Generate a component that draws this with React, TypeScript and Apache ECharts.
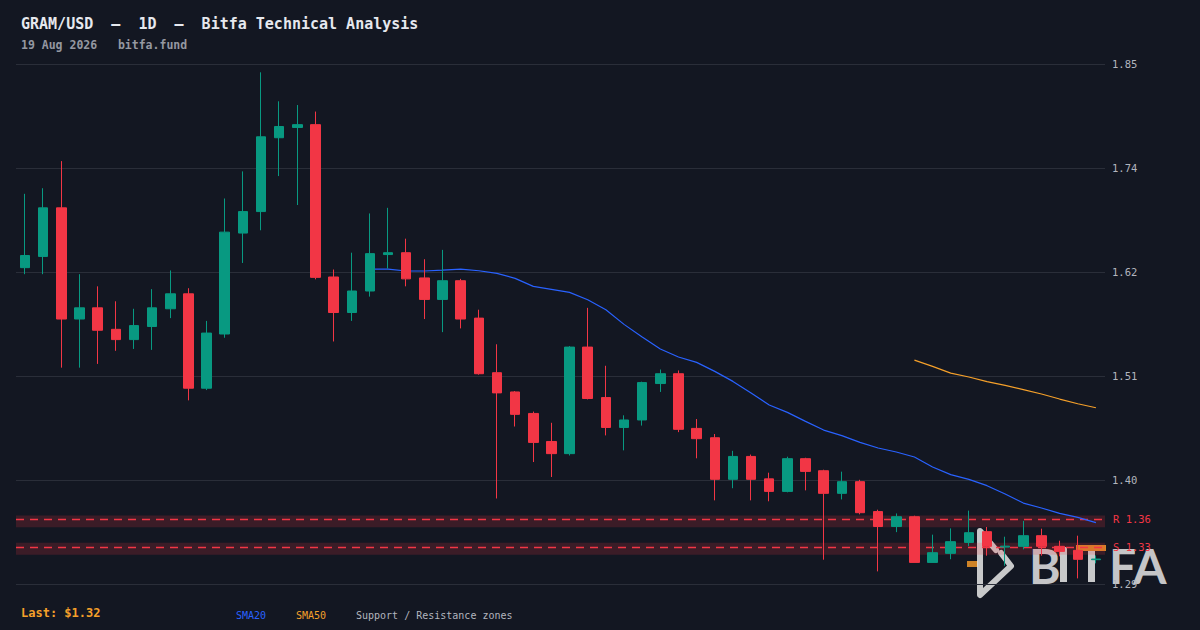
import React, { useEffect, useRef } from "react";
import * as echarts from "echarts";

const categories = [
  "2026-06-21","2026-06-22","2026-06-23","2026-06-24","2026-06-25","2026-06-26","2026-06-27","2026-06-28","2026-06-29","2026-06-30",
  "2026-07-01","2026-07-02","2026-07-03","2026-07-04","2026-07-05","2026-07-06","2026-07-07","2026-07-08","2026-07-09","2026-07-10",
  "2026-07-11","2026-07-12","2026-07-13","2026-07-14","2026-07-15","2026-07-16","2026-07-17","2026-07-18","2026-07-19","2026-07-20",
  "2026-07-21","2026-07-22","2026-07-23","2026-07-24","2026-07-25","2026-07-26","2026-07-27","2026-07-28","2026-07-29","2026-07-30",
  "2026-07-31","2026-08-01","2026-08-02","2026-08-03","2026-08-04","2026-08-05","2026-08-06","2026-08-07","2026-08-08","2026-08-09",
  "2026-08-10","2026-08-11","2026-08-12","2026-08-13","2026-08-14","2026-08-15","2026-08-16","2026-08-17","2026-08-18","2026-08-19",
];

const opens = [
  1.629, 1.641, 1.693, 1.574, 1.586, 1.563, 1.552, 1.566, 1.585, 1.601,
  1.500, 1.558, 1.666, 1.689, 1.768, 1.779, 1.782, 1.619, 1.581, 1.604,
  1.643, 1.645, 1.618, 1.595, 1.615, 1.575, 1.5166, 1.496, 1.473, 1.443,
  1.430, 1.544, 1.490, 1.458, 1.466, 1.505, 1.5155, 1.457, 1.447, 1.4025,
  1.427, 1.403, 1.3896, 1.4246, 1.4117, 1.3875, 1.400, 1.368, 1.352, 1.3625,
  1.3136, 1.3233, 1.335, 1.3465, 1.3300, 1.3308, 1.3422, 1.3308, 1.3265, 1.3165,
];
const closes = [
  1.642, 1.693, 1.574, 1.586, 1.562, 1.552, 1.567, 1.586, 1.601, 1.500,
  1.559, 1.667, 1.689, 1.769, 1.780, 1.782, 1.6186, 1.581, 1.604, 1.644,
  1.645, 1.617, 1.595, 1.615, 1.574, 1.5155, 1.495, 1.472, 1.442, 1.430,
  1.544, 1.489, 1.458, 1.466, 1.506, 1.5155, 1.456, 1.446, 1.4025, 1.427,
  1.4025, 1.3896, 1.4246, 1.411, 1.3875, 1.400, 1.3668, 1.352, 1.3625, 1.3136,
  1.324, 1.3358, 1.3454, 1.3308, 1.3310, 1.3422, 1.3308, 1.3254, 1.3169, 1.3172,
];
const lows = [
  1.622, 1.622, 1.522, 1.522, 1.526, 1.540, 1.542, 1.541, 1.575, 1.487,
  1.498, 1.554, 1.634, 1.669, 1.727, 1.696, 1.6165, 1.550, 1.572, 1.598,
  1.628, 1.609, 1.574, 1.560, 1.564, 1.5145, 1.382, 1.459, 1.421, 1.405,
  1.428, 1.488, 1.4495, 1.4335, 1.460, 1.496, 1.453, 1.425, 1.380, 1.393,
  1.380, 1.379, 1.3886, 1.3907, 1.3165, 1.381, 1.365, 1.304, 1.346, 1.3136,
  1.3136, 1.317, 1.331, 1.3208, 1.310, 1.3276, 1.3208, 1.3201, 1.2965, 1.3126,
];
const highs = [
  1.708, 1.714, 1.743, 1.622, 1.609, 1.593, 1.585, 1.606, 1.626, 1.607,
  1.572, 1.703, 1.732, 1.838, 1.807, 1.803, 1.796, 1.627, 1.645, 1.687,
  1.693, 1.660, 1.638, 1.648, 1.617, 1.584, 1.547, 1.497, 1.475, 1.463,
  1.545, 1.586, 1.524, 1.471, 1.507, 1.520, 1.519, 1.467, 1.451, 1.433,
  1.429, 1.4096, 1.4267, 1.4256, 1.4128, 1.4107, 1.402, 1.370, 1.366, 1.3636,
  1.3433, 1.350, 1.369, 1.3515, 1.3411, 1.358, 1.3497, 1.3368, 1.3422, 1.3211,
];

const sma20 = [
  null, null, null, null, null, null, null, null, null, null,
  null, null, null, null, null, null, null, null, null, 1.6275,
  1.6275, 1.6254, 1.6254, 1.6264, 1.6275, 1.6257, 1.6229, 1.6175, 1.6090, 1.6058,
  1.6025, 1.5947, 1.5840, 1.5683, 1.5547, 1.5419, 1.5334, 1.5276, 1.5180, 1.5073,
  1.4948, 1.4820, 1.4741, 1.4645, 1.4552, 1.4492, 1.4420, 1.4360, 1.4317, 1.4264,
  1.4157, 1.4075, 1.4025, 1.3957, 1.3868, 1.3771, 1.3718, 1.3661, 1.3618, 1.3561,
];
const sma50 = [
  null, null, null, null, null, null, null, null, null, null,
  null, null, null, null, null, null, null, null, null, null,
  null, null, null, null, null, null, null, null, null, null,
  null, null, null, null, null, null, null, null, null, null,
  null, null, null, null, null, null, null, null, null, 1.5301,
  1.5234, 1.5162, 1.5120, 1.5070, 1.5030, 1.4984, 1.4938, 1.4884, 1.4834, 1.4791,
];

const yMin = 1.2905;
const yMax = 1.8469;
const yInterval = 0.11128;

const resistance = 1.3575;
const support = 1.3283;
const zoneHalf = 0.0064;
const lastPrice = 1.32;

const MONO = '"DejaVu Sans Mono", "Liberation Mono", monospace';
const UP = "#089981";
const DOWN = "#f23645";
const BLUE = "#2962ff";
const ORANGE = "#f5a02a";

export default function App() {
  const ref = useRef<HTMLDivElement>(null);

  useEffect(() => {
    if (!ref.current) return;
    echarts.graphic.registerShape(
      "bitfaMark",
      echarts.graphic.extendPath(
        "M21 22 L31 35 L0 64 L0 0 L16 19",
        {}
      ) as any
    );
    const chart = echarts.init(ref.current, null, { renderer: "svg" });
    const candles = opens.map((o, i) => [o, closes[i], lows[i], highs[i]]);

    const logoFill = "rgba(230,230,230,0.86)";
    const option: any = {
      animation: false,
      backgroundColor: "#131722",
      grid: { left: 16, right: 95, top: 64, bottom: 46, containLabel: false },
      xAxis: {
        type: "category",
        data: categories,
        boundaryGap: true,
        axisLine: { show: false },
        axisTick: { show: false },
        axisLabel: { show: false },
        splitLine: { show: false },
      },
      yAxis: {
        type: "value",
        position: "right",
        min: yMin,
        max: yMax,
        interval: yInterval,
        axisLine: { show: false },
        axisTick: { show: false },
        splitLine: { lineStyle: { color: "#2a2e39", width: 1 } },
        axisLabel: {
          color: "#b2b5be",
          fontSize: 10.5,
          fontFamily: MONO,
          margin: 7,
          formatter: (v: number) => v.toFixed(2),
        },
      },
      series: [
        {
          name: "SMA20",
          type: "line",
          data: sma20,
          showSymbol: false,
          symbol: "none",
          silent: true,
          z: 2,
          lineStyle: { color: BLUE, width: 1.2 },
          itemStyle: { color: BLUE },
        },
        {
          name: "SMA50",
          type: "line",
          data: sma50,
          showSymbol: false,
          symbol: "none",
          silent: true,
          z: 2,
          lineStyle: { color: ORANGE, width: 1.2 },
          itemStyle: { color: ORANGE },
          markArea: {
            silent: true,
            z: 1,
            itemStyle: { color: "rgba(242,54,69,0.18)" },
            data: [
              [{ yAxis: resistance - zoneHalf }, { yAxis: resistance + zoneHalf }],
              [{ yAxis: support - zoneHalf }, { yAxis: support + zoneHalf }],
            ],
          },
          markLine: {
            silent: true,
            z: 1,
            symbol: ["none", "none"],
            lineStyle: { color: DOWN, type: [8, 6], width: 1.3, opacity: 1 },
            label: {
              position: "end",
              distance: 8,
              color: DOWN,
              fontSize: 10.5,
              fontFamily: MONO,
            },
            data: [
              { yAxis: resistance, label: { formatter: "R " + resistance.toFixed(2) } },
              { yAxis: support, label: { formatter: "S " + support.toFixed(2) } },
            ],
          },
        },
        {
          name: "GRAM/USD",
          type: "candlestick",
          data: candles,
          barWidth: 10,
          z: 3,
          silent: true,
          itemStyle: {
            color: UP,
            color0: DOWN,
            borderColor: UP,
            borderColor0: DOWN,
            borderWidth: 1,
          },
        },
      ],
      graphic: [
        {
          type: "text",
          x: 21,
          y: 24,
          style: {
            text: "GRAM/USD  –  1D  –  Bitfa Technical Analysis",
            fill: "#e6e8ee",
            fontSize: 15,
            fontWeight: "bold",
            fontFamily: MONO,
            verticalAlign: "middle",
          },
        },
        {
          type: "text",
          x: 21,
          y: 45,
          style: {
            text: "19 Aug 2026   bitfa.fund",
            fill: "#9598a1",
            fontSize: 11.5,
            fontWeight: "bold",
            fontFamily: MONO,
            verticalAlign: "middle",
          },
        },
        {
          type: "text",
          x: 21,
          y: 613,
          style: {
            text: "Last: $" + lastPrice.toFixed(2),
            fill: ORANGE,
            fontSize: 12,
            fontWeight: "bold",
            fontFamily: MONO,
            verticalAlign: "middle",
          },
        },
        {
          type: "text",
          x: 236,
          y: 615,
          style: { text: "SMA20", fill: BLUE, fontSize: 10, fontFamily: MONO, verticalAlign: "middle" },
        },
        {
          type: "text",
          x: 296,
          y: 615,
          style: { text: "SMA50", fill: ORANGE, fontSize: 10, fontFamily: MONO, verticalAlign: "middle" },
        },
        {
          type: "text",
          x: 356,
          y: 615,
          style: {
            text: "Support / Resistance zones",
            fill: "#b2b5be",
            fontSize: 10,
            fontFamily: MONO,
            verticalAlign: "middle",
          },
        },
        {
          type: "group",
          z: 100,
          children: [
            {
              type: "rect",
              shape: { x: 967, y: 561, width: 11, height: 6 },
              style: { fill: "rgba(240,150,40,0.85)" },
            },
            {
              type: "bitfaMark",
              x: 980,
              y: 531,
              style: {
                fill: "none",
                stroke: logoFill,
                lineWidth: 6,
                lineJoin: "round",
                lineCap: "round",
              },
            },
            {
              type: "text",
              x: 1029,
              y: 565,
              style: {
                text: "B",
                fill: logoFill,
                fontSize: 48,
                fontFamily: "Lato",
                fontWeight: "bold",
                verticalAlign: "middle",
              },
            },
            {
              type: "rect",
              shape: { x: 1060, y: 547, width: 7, height: 35 },
              style: { fill: logoFill },
            },
            {
              type: "rect",
              shape: { x: 1076, y: 545, width: 30, height: 6 },
              style: { fill: "rgba(240,150,40,0.88)" },
            },
            {
              type: "rect",
              shape: { x: 1088, y: 551, width: 7, height: 31 },
              style: { fill: logoFill },
            },
            {
              type: "text",
              x: 1109,
              y: 565,
              style: {
                text: "FA",
                fill: logoFill,
                fontSize: 48,
                fontFamily: "Lato",
                fontWeight: "bold",
                verticalAlign: "middle",
              },
            },
          ],
        },
      ],
    };
    chart.setOption(option);
    return () => chart.dispose();
  }, []);

  return (
    <div
      ref={ref}
      style={{ position: "fixed", left: 0, top: 0, width: 1200, height: 630 }}
    />
  );
}
